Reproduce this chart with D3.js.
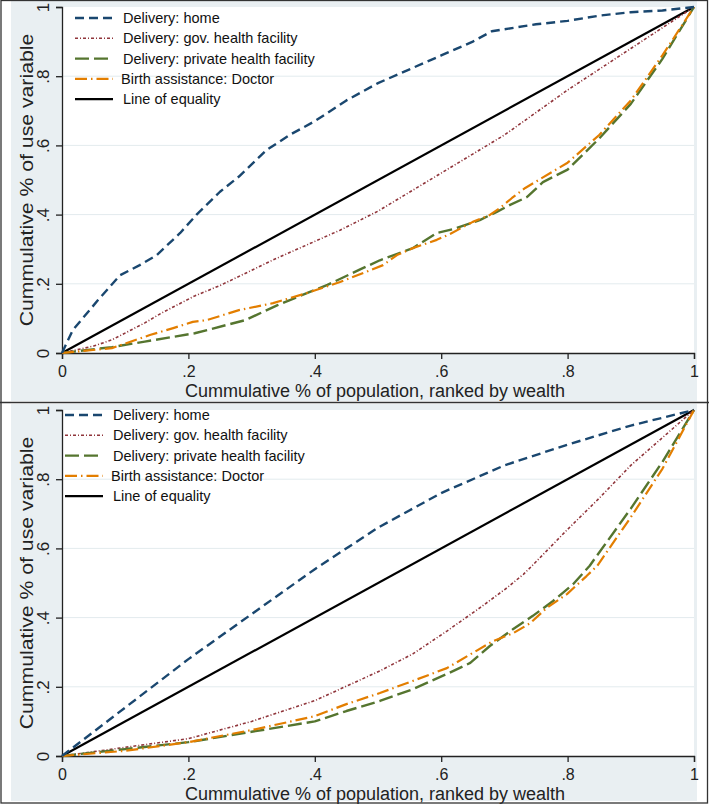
<!DOCTYPE html>
<html>
<head>
<meta charset="utf-8">
<script src="https://cdn.jsdelivr.net/npm/d3@7/dist/d3.min.js"></script>
<style>
html,body{margin:0;padding:0;background:#fff;}
svg{display:block;font-family:"Liberation Sans",Arial,sans-serif;}
</style>
</head>
<body>
<svg id="chart" width="709" height="805"></svg>
<script>
// ---------- data ----------
const xTicks = [0, 0.2, 0.4, 0.6, 0.8, 1];
const xTickLabels = ["0", ".2", ".4", ".6", ".8", "1"];
const yTicks = [0, 0.2, 0.4, 0.6, 0.8, 1];
const yTickLabels = ["0", ".2", ".4", ".6", ".8", "1"];
const seriesNames = ["Delivery: home", "Delivery: gov. health facility", "Delivery: private health facility", "Birth assistance: Doctor", "Line of equality"];
const xTitle = "Cummulative % of population, ranked by wealth";
const yTitle = "Cummulative % of use variable";

// top panel
const topHome = [[0,0],[0.017,0.066],[0.057,0.153],[0.092,0.225],[0.123,0.254],[0.15,0.283],[0.187,0.347],[0.213,0.40],[0.25,0.466],[0.28,0.51],[0.324,0.587],[0.36,0.63],[0.4,0.67],[0.45,0.73],[0.5,0.78],[0.55,0.82],[0.6,0.86],[0.65,0.90],[0.68,0.93],[0.75,0.95],[0.8,0.96],[0.85,0.975],[0.9,0.985],[0.95,0.99],[1,1]];
const topGov = [[0,0],[0.05,0.02],[0.079,0.038],[0.131,0.087],[0.158,0.116],[0.21,0.165],[0.25,0.195],[0.334,0.269],[0.44,0.355],[0.5,0.41],[0.6,0.52],[0.7,0.63],[0.8,0.76],[0.9,0.88],[1,1]];
const topPrivate = [[0,0],[0.079,0.017],[0.131,0.033],[0.21,0.057],[0.29,0.095],[0.342,0.139],[0.42,0.197],[0.47,0.24],[0.503,0.268],[0.555,0.303],[0.593,0.347],[0.619,0.358],[0.661,0.384],[0.688,0.408],[0.709,0.428],[0.736,0.451],[0.761,0.494],[0.8,0.53],[0.85,0.62],[0.9,0.72],[0.95,0.85],[1,1]];
const topDoctor = [[0,0],[0.079,0.014],[0.139,0.052],[0.176,0.072],[0.207,0.09],[0.229,0.095],[0.28,0.124],[0.334,0.144],[0.387,0.173],[0.44,0.205],[0.508,0.254],[0.53,0.283],[0.555,0.303],[0.593,0.327],[0.614,0.344],[0.65,0.379],[0.677,0.399],[0.693,0.419],[0.712,0.448],[0.733,0.477],[0.8,0.55],[0.85,0.63],[0.9,0.73],[0.95,0.86],[1,1]];

// bottom panel
const botHome = [[0,0],[0.05,0.07],[0.1,0.14],[0.2,0.28],[0.3,0.41],[0.4,0.54],[0.5,0.66],[0.6,0.76],[0.7,0.84],[0.8,0.9],[0.9,0.955],[1,1]];
const botGov = [[0,0],[0.1,0.025],[0.2,0.05],[0.3,0.10],[0.4,0.16],[0.503,0.246],[0.555,0.295],[0.609,0.361],[0.661,0.428],[0.704,0.486],[0.73,0.525],[0.745,0.552],[0.8,0.655],[0.85,0.745],[0.9,0.84],[0.95,0.92],[1,1]];
const botPrivate = [[0,0],[0.1,0.02],[0.2,0.04],[0.3,0.07],[0.4,0.10],[0.45,0.13],[0.503,0.159],[0.555,0.193],[0.609,0.237],[0.646,0.269],[0.677,0.318],[0.714,0.367],[0.745,0.405],[0.777,0.448],[0.809,0.497],[0.835,0.55],[0.9,0.715],[0.95,0.85],[1,1]];
const botDoctor = [[0,0],[0.1,0.015],[0.2,0.04],[0.3,0.075],[0.4,0.115],[0.45,0.15],[0.503,0.182],[0.555,0.217],[0.609,0.254],[0.65,0.298],[0.682,0.332],[0.714,0.355],[0.741,0.384],[0.767,0.428],[0.799,0.468],[0.83,0.52],[0.847,0.55],[0.9,0.69],[0.95,0.83],[1,1]];
const equality = [[0,0],[1,1]];

// ---------- styles ----------
const styles = [
  {color:"#1a476f", width:2.4, dash:"9,5"},
  {color:"#90353b", width:1.6, dash:"3,2,1,2"},
  {color:"#55752f", width:2.4, dash:"14,5"},
  {color:"#e37e00", width:2.2, dash:"12,4,1.5,4"},
  {color:"#000000", width:2.2, dash:null}
];

const svg = d3.select("#chart");
const W = 709, H = 805;

svg.append("rect").attr("x",0).attr("y",0).attr("width",W).attr("height",H).attr("fill","#fff");

const panels = [
  {top:1, bottom:401, data:[topHome, topGov, topPrivate, topDoctor, equality], legendX:75, legendY:18},
  {top:404, bottom:801, data:[botHome, botGov, botPrivate, botDoctor, equality], legendX:65, legendY:415}
];

panels.forEach(p => {
  const plotTop = p.top + 6, plotBottom = plotTop + 346;
  const x = d3.scaleLinear().domain([0,1]).range([62, 694]);
  const y = d3.scaleLinear().domain([0,1]).range([plotBottom, plotTop]);

  const g = svg.append("g");
  g.append("rect").attr("x",11).attr("y",p.top).attr("width",686).attr("height",p.bottom-p.top).attr("fill","#e9eff2");
  g.append("rect").attr("x",x(0)).attr("y",y(1)).attr("width",x(1)-x(0)).attr("height",y(0)-y(1)).attr("fill","#fff");

  // gridlines
  g.selectAll(".grid").data(yTicks.filter(t=>t>0 && t<1)).enter().append("line")
    .attr("x1",x(0)).attr("x2",x(1)).attr("y1",d=>y(d)).attr("y2",d=>y(d))
    .attr("stroke","#e3ebee").attr("stroke-width",1);

  // axes
  const xAxis = d3.axisBottom(x).tickValues(xTicks).tickFormat((d,i)=>xTickLabels[i]).tickSizeOuter(0).tickSize(6).tickPadding(7);
  const gx = g.append("g").attr("transform",`translate(0,${y(0)})`).call(xAxis);
  gx.select(".domain").attr("stroke","#222").attr("stroke-width",1.3);
  gx.selectAll(".tick line").attr("stroke","#222").attr("stroke-width",1.3);
  gx.selectAll(".tick text").attr("font-size",16).attr("fill","#222").attr("font-family","Liberation Sans, Arial, sans-serif");

  const yAxis = d3.axisLeft(y).tickValues(yTicks).tickFormat((d,i)=>yTickLabels[i]).tickSizeOuter(0).tickSize(6);
  const gy = g.append("g").attr("transform",`translate(${x(0)},0)`).call(yAxis);
  gy.select(".domain").attr("stroke","#222").attr("stroke-width",1.3);
  gy.selectAll(".tick line").attr("stroke","#222").attr("stroke-width",1.3);
  gy.selectAll(".tick text")
    .attr("font-size",17).attr("fill","#222").attr("font-family","Liberation Sans, Arial, sans-serif")
    .attr("x",null).attr("dy",null)
    .attr("text-anchor","middle")
    .attr("transform","translate(-13,0) rotate(-90)");

  // titles
  g.append("text").attr("x",(x(0)+x(1))/2 - 3).attr("y",y(0)+44).attr("text-anchor","middle")
    .attr("font-size",18).attr("fill","#222").text(xTitle);
  g.append("text").attr("transform",`translate(33,${(y(0)+y(1))/2}) rotate(-90) scale(1.18,1)`).attr("text-anchor","middle")
    .attr("font-size",18).attr("fill","#222").text(yTitle);

  // lines
  const line = d3.line().x(d=>x(d[0])).y(d=>y(d[1]));
  const order = [4,1,2,3,0];
  order.forEach(i => {
    const s = styles[i];
    g.append("path").datum(p.data[i]).attr("d",line).attr("fill","none")
      .attr("stroke",s.color).attr("stroke-width",s.width)
      .attr("stroke-dasharray",s.dash).attr("stroke-linejoin","round");
  });

  // legend
  const lg = g.append("g");
  seriesNames.forEach((name,i) => {
    const s = styles[i];
    const ly = p.legendY + i*20.3;
    lg.append("line").attr("x1",p.legendX).attr("x2",p.legendX+38).attr("y1",ly).attr("y2",ly)
      .attr("stroke",s.color).attr("stroke-width",s.width).attr("stroke-dasharray",s.dash);
    lg.append("text").attr("x",p.legendX+48 - (i===3?2:0)).attr("y",ly+5).attr("font-size",14.5).attr("fill","#111").text(name);
  });
});

// frame and divider
svg.append("rect").attr("x",1).attr("y",0.5).attr("width",706.5).attr("height",802.5).attr("fill","none").attr("stroke","#333").attr("stroke-width",1.3);
svg.append("line").attr("x1",0).attr("x2",W).attr("y1",402.5).attr("y2",402.5).attr("stroke","#333").attr("stroke-width",1.3);
</script>
</body>
</html>
